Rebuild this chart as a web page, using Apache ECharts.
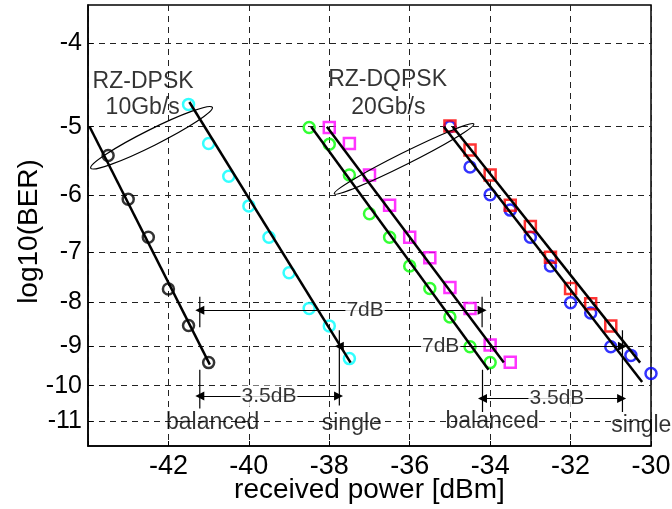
<!DOCTYPE html>
<html>
<head>
<meta charset="utf-8">
<script src="https://cdn.jsdelivr.net/npm/echarts@6/dist/echarts.min.js"></script>
<style>
html, body { margin: 0; padding: 0; background: #fff; }
#main { width: 672px; height: 509px; }
</style>
</head>
<body>
<div id="main"></div>
<script>
// measured points: received power [dBm] and log10(BER)
const dpskBalX = [-43.5, -43, -42.5, -42, -41.5, -41];
const dpskBalY = [-5.40, -6.07, -6.72, -7.72, -8.51, -9.40];
const dpskSglX = [-41.5, -41, -40.5, -40, -39.5, -39, -38.5, -38, -37.5];
const dpskSglY = [-4.71, -5.23, -5.71, -6.18, -6.72, -7.39, -8.13, -8.52, -9.30];
const dqpskBalX = [-38.5, -38, -37.5, -37, -36.5, -36, -35.5, -35, -34.5, -34];
const dqpskBalY = [-5.01, -5.24, -5.69, -6.31, -6.72, -7.26, -7.71, -8.32, -9.01, -9.40];
const dqpskSglX = [-38, -37.5, -37, -36.5, -36, -35.5, -35, -34.5, -34, -33.5];
const dqpskSglY = [-5.01, -5.23, -5.69, -6.17, -6.72, -7.10, -7.69, -8.13, -8.97, -9.39];
const blueX = [-35, -34.5, -34, -33.5, -33, -32.5, -32, -31.5, -31, -30.5, -30];
const blueY = [-5.00, -5.57, -6.00, -6.25, -6.72, -7.26, -8.01, -8.23, -9.01, -9.22, -9.68];
const redX = [-35, -34.5, -34, -33.5, -33, -32.5, -32, -31.5, -31];
const redY = [-4.99, -5.32, -5.69, -6.17, -6.53, -7.09, -7.71, -8.03, -8.52];

// fitted lines (end points)
const fitDpskBal = [[-43.96, -5.0], [-40.97, -9.45]];
const fitDpskSgl = [[-41.48, -4.68], [-37.47, -9.40]];
const fitDqpskBal = [[-38.45, -5.0], [-34.04, -9.58]];
const fitDqpskSgl = [[-38.06, -5.0], [-33.66, -9.40]];
const fitBlue = [[-35.15, -5.0], [-30.22, -9.90]];
const fitRed = [[-34.93, -5.0], [-30.27, -9.40]];

// axis
const xTicks = [-42, -40, -38, -36, -34, -32, -30];
const yTicks = [-4, -5, -6, -7, -8, -9, -10, -11];
const yRange = [-3.61, -11.75];

// annotations
const noteText = ['RZ-DPSK', '10Gb/s', 'RZ-DQPSK', '20Gb/s', 'balanced', 'single', 'balanced', 'single'];
const noteX = [-42.63, -42.64, -36.55, -36.53, -40.90, -37.44, -33.95, -30.24];
const noteY = [-4.43, -4.75, -4.41, -4.75, -11.03, -11.06, -11.0, -11.12];
const gapText = ['7dB', '7dB', '3.5dB', '3.5dB'];
const gapX = [-37.11, -35.23, -39.50, -32.34];
const gapY = [-8.17, -9.0, -10.28, -10.35];
const arrowFrom = [-41.22, -37.75, -41.22, -34.19];
const arrowTo = [-34.20, -30.71, -37.77, -30.73];
const arrowY = [-8.17, -9.0, -10.28, -10.35];
const barX = [-41.22, -41.22, -34.20, -34.19, -37.75, -30.71];
const barTop = [-7.88, -9.58, -7.88, -9.58, -8.62, -8.62];
const barBottom = [-8.55, -10.63, -8.55, -10.73, -10.54, -10.73];
const ellipseX = [-42.42, -36.14];
const ellipseY = [-5.15, -5.45];

const font = 'Liberation Sans, Arial, sans-serif';
// y axis is drawn as log10(-log10(BER))
const t = v => Math.log10(-v);
const pts = (xs, ys) => xs.map((x, i) => [x, t(ys[i])]);
const seg = p => p.map(q => [q[0], t(q[1])]);

function marks(xs, ys, color, symbol) {
  return {
    type: 'scatter', data: pts(xs, ys), symbol: symbol, symbolSize: 11, z: 3,
    itemStyle: { color: 'rgba(0,0,0,0)', borderColor: color, borderWidth: 2.5 }
  };
}
function fit(p) {
  return {
    type: 'line', data: seg(p), showSymbol: false, z: 4,
    lineStyle: { color: '#000', width: 2.5 }
  };
}

const series = [
  marks(dpskBalX, dpskBalY, '#000', 'circle'),
  marks(dpskSglX, dpskSglY, '#00ffff', 'circle'),
  marks(dqpskBalX, dqpskBalY, '#00ff00', 'circle'),
  marks(dqpskSglX, dqpskSglY, '#ff00ff', 'rect'),
  marks(blueX, blueY, '#0000ff', 'circle'),
  marks(redX, redY, '#ff0000', 'rect'),
  fit(fitDpskBal), fit(fitDpskSgl), fit(fitDqpskBal),
  fit(fitDqpskSgl), fit(fitBlue), fit(fitRed)
];

barX.forEach((x, i) => {
  series.push({
    type: 'line', data: [[x, t(barTop[i])], [x, t(barBottom[i])]],
    showSymbol: false, z: 5, lineStyle: { color: '#000', width: 1.2 }
  });
});

// double arrows hung on the first bar series
series[12].markLine = {
  silent: true, symbol: ['triangle', 'triangle'], symbolSize: 9,
  label: { show: false },
  lineStyle: { color: '#000', width: 1.2, type: 'solid' },
  data: arrowY.map((y, i) => [{ coord: [arrowFrom[i], t(y)] }, { coord: [arrowTo[i], t(y)] }])
};

series.push({
  type: 'scatter', symbolSize: 1, z: 6,
  itemStyle: { color: 'rgba(0,0,0,0)' },
  data: noteText.map((s, i) => ({ name: s, value: [noteX[i], t(noteY[i])] })),
  label: { show: true, position: 'inside', formatter: '{b}', color: '#000', fontSize: 23, fontFamily: font }
});
series.push({
  type: 'scatter', symbolSize: 1, z: 7,
  itemStyle: { color: 'rgba(0,0,0,0)' },
  data: gapText.map((s, i) => ({ name: s, value: [gapX[i], t(gapY[i])] })),
  label: {
    show: true, position: 'inside', formatter: '{b}', color: '#000', fontSize: 21, fontFamily: font,
    backgroundColor: '#fff', padding: [0, 1]
  }
});

const chart = echarts.init(document.getElementById('main'));
chart.setOption({
  animation: false,
  grid: {
    left: 88, right: 21, top: 5, bottom: 63, outerBoundsMode: 'none',
    show: true, borderColor: '#000', borderWidth: 1.5
  },
  xAxis: {
    type: 'value', min: -44, max: -30, interval: 2,
    name: 'received power [dBm]', nameLocation: 'middle', nameGap: 30, nameMoveOverlap: false,
    nameTextStyle: { fontSize: 28, color: '#000', fontFamily: font },
    axisLine: { lineStyle: { color: '#000', width: 1.5 } },
    axisTick: { inside: true, length: 5, lineStyle: { color: '#000' } },
    axisLabel: {
      fontSize: 27, color: '#000', fontFamily: font, margin: 7,
      formatter: v => (xTicks.indexOf(v) >= 0 ? String(v) : '')
    },
    splitLine: { show: true, lineStyle: { color: '#222', width: 1, type: [6, 5] } }
  },
  yAxis: {
    type: 'value', inverse: true, min: t(yRange[0]), max: t(yRange[1]),
    name: 'log10(BER)', nameLocation: 'middle', nameGap: 45, nameMoveOverlap: false,
    nameTextStyle: { fontSize: 28, color: '#000', fontFamily: font, padding: [0, 12, 0, 0] },
    axisLine: { lineStyle: { color: '#000', width: 1.5 } },
    axisTick: { inside: true, length: 5, lineStyle: { color: '#000' }, customValues: yTicks.map(t) },
    axisLabel: {
      fontSize: 25, color: '#000', fontFamily: font, margin: 6,
      customValues: yTicks.map(t),
      formatter: u => String(-Math.round(Math.pow(10, u)))
    },
    splitLine: { show: true, lineStyle: { color: '#222', width: 1, type: [6, 5] } }
  },
  series: series
});

// ellipses round each pair of curves
const ellipseSize = [[68, 8], [78, 6]];
chart.setOption({
  graphic: ellipseX.map((x, i) => {
    const p = chart.convertToPixel({ gridIndex: 0 }, [x, t(ellipseY[i])]);
    return {
      type: 'ellipse', x: p[0], y: p[1], rotation: 0.464, z: 10,
      shape: { cx: 0, cy: 0, rx: ellipseSize[i][0], ry: ellipseSize[i][1] },
      style: { fill: 'none', stroke: '#000', lineWidth: 1.2 }
    };
  })
});
</script>
</body>
</html>
